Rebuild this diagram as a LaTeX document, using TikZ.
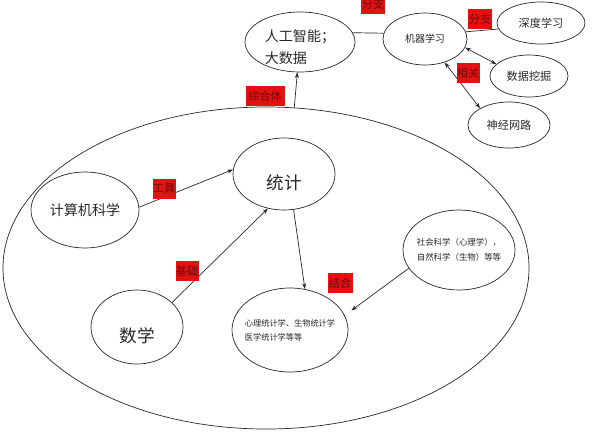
\documentclass[tikz,border=0pt]{standalone}
\usepackage{fontspec}
\setmainfont{Noto Sans CJK SC}
\usetikzlibrary{arrows.meta,shapes.geometric}
\definecolor{tagred}{RGB}{226,18,18}
\definecolor{tagtext}{RGB}{110,10,10}
\definecolor{inkgray}{RGB}{40,40,40}

\begin{document}
\begin{tikzpicture}[
  x=0.03cm, y=-0.03cm,
  oval/.style={draw=inkgray, ellipse, line width=0.6pt, text=inkgray, inner sep=0pt},
  tag/.style={fill=tagred, text=tagtext, inner sep=0pt, minimum height=0.6cm, font=\fontsize{9.5}{10}\selectfont},
  arrow/.style={-{Stealth[length=5pt,width=3.5pt]}, line width=0.6pt, draw=inkgray},
  twoway/.style={{Stealth[length=5pt,width=3.5pt]}-{Stealth[length=5pt,width=3.5pt]}, line width=0.6pt, draw=inkgray},
  link/.style={line width=0.6pt, draw=inkgray}
]
\useasboundingbox (0,0) rectangle (596,442);
% big field and the parts inside it
\node[oval, minimum width=15.78cm, minimum height=9.66cm] (field) at (266,268) {};
\node[oval, minimum width=3.06cm, minimum height=2.16cm, text height=27pt, text depth=0pt, font=\fontsize{15}{18}\selectfont] (stats) at (284,174) {统计};
\node[oval, minimum width=3.24cm, minimum height=2.28cm, font=\fontsize{12}{14}\selectfont] (cs) at (85,210) {计算机科学};
\node[oval, minimum width=2.76cm, minimum height=2.22cm, text height=27pt, text depth=0pt, font=\fontsize{15}{18}\selectfont] (math) at (137,327) {数学};
\node[oval, minimum width=3.48cm, minimum height=2.52cm, inner xsep=-0.2cm, align=left, font=\fontsize{7}{12}\selectfont] (applied) at (290,330) {心理统计学、生物统计学\\医学统计学等等};
\node[oval, minimum width=3.36cm, minimum height=2.4cm, inner xsep=-0.15cm, align=left, font=\fontsize{7.2}{12.8}\selectfont] (sciences) at (459,250) {社会科学（心理学），\\自然科学（生物）等等};
% top row
\node[oval, minimum width=3.3cm, minimum height=1.8cm, align=left, text height=36pt, text depth=-16pt, font=\fontsize{12}{18.7}\selectfont] (ai) at (300,42) {人工智能；\\大数据};
\node[oval, minimum width=2.52cm, minimum height=1.56cm, font=\fontsize{8.5}{10}\selectfont] (ml) at (425,39) {机器学习};
\node[oval, minimum width=2.64cm, minimum height=1.26cm, font=\fontsize{9.5}{11}\selectfont] (deep) at (541,23) {深度学习};
\node[oval, minimum width=2.34cm, minimum height=1.26cm, font=\fontsize{9.5}{11}\selectfont] (mining) at (529,76) {数据挖掘};
\node[oval, minimum width=2.46cm, minimum height=1.38cm, font=\fontsize{9.5}{11}\selectfont] (neural) at (509,125) {神经网路};
% connectors
\draw[arrow] (field.80) -- (ai.265);
\draw[link] (ai.10) -- (ml.172);
\draw[link] (ml.10) -- (deep.188);
\draw[twoway] (ml.-12) -- (mining.160);
\draw[twoway] (ml.-50) -- (neural.150);
\draw[arrow] (cs.3) -- (stats.175);
\draw[arrow] (math.35) -- (stats.245);
\draw[arrow] (stats.-75) -- (applied.70);
\draw[arrow, shorten >=7pt] (sciences.200) -- (applied.15);
% red tags
\node[tag, minimum width=0.72cm] (branch1) at (373,4) {分支};
\node[tag, minimum width=0.72cm] (branch2) at (480,19) {分支};
\node[tag, minimum width=0.69cm] (related) at (468,73) {相关};
\node[tag, minimum width=1.17cm] (whole) at (265,96) {综合体};
\node[tag, minimum width=0.69cm] (tool) at (164,189) {工具};
\node[tag, minimum width=0.69cm] (basis) at (187,271) {基础};
\node[tag, minimum width=0.75cm] (combine) at (340,283) {结合};
\end{tikzpicture}
\end{document}
